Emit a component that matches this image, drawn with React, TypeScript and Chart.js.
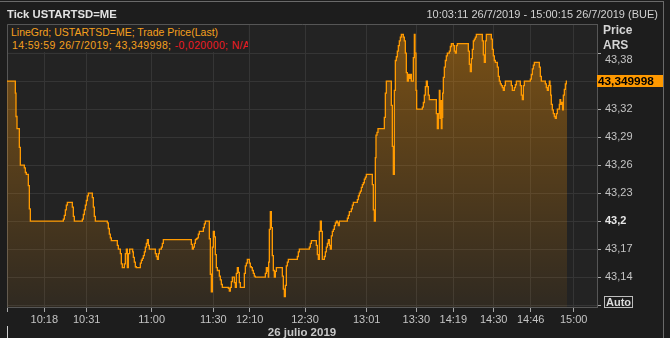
import React, { useEffect, useRef } from 'react';
import { Chart, registerables } from 'chart.js';

Chart.register(...registerables);

// ---- data ----
const tradeSeq = [
  0, 25, 27, 30, 37, 40, 52, 55, 58, 64, 67, 70,
  169, 172, 175, 178, 181, 196, 199, 202,
  226, 229, 232, 235, 238, 241, 244, 256, 259, 262, 265,
  301, 304, 307, 310, 313, 331, 334, 340, 343, 346, 352, 355, 358, 361, 364, 368, 377, 379, 382, 385, 388,
  400, 403, 406, 409, 412, 415, 418, 421, 424, 427, 445, 448, 451, 454, 457, 463, 466, 469,
  553, 556, 559, 562, 565, 568, 571, 574, 577, 589, 592, 595,
  607, 610, 613, 616, 619, 622, 625, 628, 631, 637, 640, 643, 646, 664, 667, 670, 673, 676, 682, 685, 688, 691, 694, 697, 700,
  712, 715, 718, 721, 727, 730, 733, 736, 739, 742, 745,
  775, 778, 781, 784, 785, 787, 790, 793, 796, 799, 802, 805, 808,
  826, 829, 832, 835, 838, 841, 844, 871, 874, 877, 907, 910, 913,
  928, 931, 934, 937, 940, 943, 946, 952, 955, 958, 961, 964, 967, 970, 973, 976, 979, 982, 985, 988, 991, 994, 997,
  1021, 1024, 1027, 1033, 1036, 1039, 1051, 1054, 1057, 1060, 1063, 1066, 1069, 1072, 1075, 1078,
  1096, 1099, 1102, 1105, 1107, 1110, 1113, 1132, 1135, 1138,
  1153, 1156, 1159, 1162, 1165, 1168, 1171, 1174, 1177, 1180, 1183, 1189, 1192, 1195, 1198, 1201, 1204, 1207, 1210, 1213, 1219, 1222, 1224, 1227, 1229,
  1246, 1249, 1252, 1255, 1258, 1261, 1264, 1267, 1288, 1291, 1294, 1297, 1299, 1301, 1303, 1305, 1307, 1309, 1312, 1315, 1318, 1321, 1327, 1330, 1333, 1339, 1342, 1345, 1348, 1351,
  1384, 1387, 1390, 1393, 1396, 1399, 1402, 1405, 1408, 1426, 1429, 1432, 1435, 1438,
  1453, 1456, 1459, 1462, 1465, 1471, 1474, 1477, 1480, 1483, 1486, 1489, 1492, 1495, 1513, 1516, 1522, 1525, 1528, 1540, 1543, 1546, 1549, 1552,
  1570, 1573, 1576, 1579, 1582, 1597, 1600, 1603, 1615, 1618, 1621, 1624, 1627, 1629, 1631, 1633, 1636, 1639, 1642, 1645, 1648, 1651, 1657, 1659, 1661, 1664, 1667, 1669, 1672, 1675, 1678, 1680,
];

const tradePrice = [
  43.350, 43.337, 43.312, 43.299, 43.279, 43.260, 43.257, 43.252, 43.250, 43.238, 43.213, 43.200,
  43.202, 43.206, 43.212, 43.217, 43.220, 43.215, 43.205, 43.200,
  43.202, 43.207, 43.212, 43.217, 43.222, 43.227, 43.230, 43.225, 43.215, 43.205, 43.200,
  43.198, 43.192, 43.186, 43.182, 43.179, 43.174, 43.170, 43.165, 43.154, 43.150, 43.154, 43.165, 43.170, 43.150, 43.165, 43.170, 43.167, 43.161, 43.156, 43.151, 43.150,
  43.155, 43.158, 43.160, 43.163, 43.167, 43.172, 43.176, 43.180, 43.174, 43.170, 43.165, 43.162, 43.159, 43.165, 43.170, 43.172, 43.176, 43.180,
  43.175, 43.170, 43.172, 43.176, 43.180, 43.181, 43.182, 43.186, 43.189, 43.193, 43.197, 43.200,
  43.181, 43.143, 43.124, 43.172, 43.189, 43.183, 43.164, 43.150, 43.147, 43.141, 43.137, 43.132, 43.129, 43.128, 43.125, 43.129, 43.135, 43.140, 43.134, 43.129, 43.144, 43.150, 43.145, 43.134, 43.129,
  43.144, 43.152, 43.155, 43.159, 43.155, 43.151, 43.150, 43.147, 43.144, 43.141, 43.140,
  43.144, 43.150, 43.146, 43.140, 43.156, 43.191, 43.210, 43.193, 43.163, 43.147, 43.140, 43.146, 43.150,
  43.141, 43.127, 43.119, 43.131, 43.152, 43.156, 43.159, 43.162, 43.167, 43.170, 43.172, 43.176, 43.179,
  43.174, 43.164, 43.159, 43.189, 43.200, 43.189, 43.159, 43.162, 43.167, 43.172, 43.176, 43.180, 43.174, 43.170, 43.184, 43.189, 43.191, 43.195, 43.198, 43.200, 43.198, 43.195, 43.200,
  43.203, 43.206, 43.210, 43.213, 43.217, 43.220, 43.223, 43.227, 43.230, 43.232, 43.236, 43.239, 43.241, 43.245, 43.247, 43.250,
  43.239, 43.212, 43.200, 43.268, 43.292, 43.295, 43.299, 43.311, 43.337, 43.350,
  43.324, 43.280, 43.250, 43.340, 43.372, 43.376, 43.382, 43.388, 43.393, 43.397, 43.400, 43.397, 43.393, 43.380, 43.359, 43.350, 43.357, 43.353, 43.357, 43.350, 43.375, 43.400, 43.380, 43.340, 43.320,
  43.322, 43.327, 43.335, 43.344, 43.350, 43.344, 43.335, 43.330, 43.315, 43.299, 43.315, 43.340, 43.310, 43.329, 43.299, 43.311, 43.337, 43.354, 43.365, 43.372, 43.377, 43.380, 43.382, 43.387, 43.390, 43.388, 43.382, 43.380, 43.388, 43.390,
  43.382, 43.368, 43.360, 43.374, 43.384, 43.393, 43.395, 43.397, 43.400, 43.393, 43.378, 43.370, 43.393, 43.400,
  43.395, 43.384, 43.377, 43.372, 43.370, 43.365, 43.355, 43.350, 43.347, 43.345, 43.343, 43.340, 43.345, 43.350, 43.345, 43.340, 43.343, 43.346, 43.350, 43.345, 43.335, 43.330, 43.345, 43.350,
  43.352, 43.357, 43.363, 43.367, 43.370, 43.365, 43.355, 43.350, 43.347, 43.343, 43.340, 43.345, 43.350, 43.345, 43.335, 43.325, 43.319, 43.315, 43.312, 43.310, 43.315, 43.320, 43.325, 43.330, 43.325, 43.327, 43.319, 43.335, 43.341, 43.347, 43.350, 43.350,
];

const timeTickSeq = [0, 112, 239, 434, 619, 728, 894, 1079, 1228, 1339, 1460, 1571, 1700];
const timeTickLabels = ['', '10:18', '10:31', '11:00', '11:30', '12:10', '12:30', '13:01', '13:30', '14:19', '14:30', '14:46', '15:00'];
const seqMax = 1770;

const priceTicks = [43.11, 43.14, 43.17, 43.2, 43.23, 43.26, 43.29, 43.32, 43.35, 43.38];
const priceTickLabels = ['', '43,14', '43,17', '43,2', '43,23', '43,26', '43,29', '43,32', '', '43,38'];
const priceMin = 43.1079;
const priceMax = 43.4111;
const refPrice = 43.2;

const titleText = 'Tick USTARTSD=ME';
const rangeText = '10:03:11 26/7/2019 - 15:00:15 26/7/2019 (BUE)';
const legendLine1 = 'LineGrd; USTARTSD=ME; Trade Price(Last)';
const legendLine2a = '14:59:59 26/7/2019; 43,349998; ';
const legendLine2b = '-0,020000; N/A';
const lastPriceText = '43,349998';
const dateText = '26 julio 2019';

const FONT = "'Liberation Sans', Arial, sans-serif";

const framePlugin = {
  id: 'frame',
  beforeDraw(chart: any) {
    const { ctx, chartArea: a } = chart;
    ctx.save();
    ctx.fillStyle = '#232323';
    ctx.fillRect(a.left, a.top, a.right - a.left, a.bottom - a.top);
    ctx.restore();
  },
  beforeDatasetsDraw(chart: any) {
    const { ctx, chartArea: a } = chart;
    ctx.save();
    ctx.strokeStyle = '#565656';
    ctx.lineWidth = 1;
    ctx.beginPath();
    ctx.moveTo(a.left + 0.5, a.bottom);
    ctx.lineTo(a.left + 0.5, a.top + 0.5);
    ctx.lineTo(a.right, a.top + 0.5);
    ctx.stroke();
    ctx.restore();
  },
};

export default function App() {
  const canvasRef = useRef<HTMLCanvasElement | null>(null);

  useEffect(() => {
    const canvas = canvasRef.current;
    if (!canvas) return;
    const chart = new Chart(canvas, {
      type: 'line',
      data: {
        datasets: [
          {
            data: tradeSeq.map((x, i) => ({ x, y: tradePrice[i] })),
            stepped: true,
            borderColor: '#ff9a00',
            borderWidth: 1.3,
            pointRadius: 0,
            fill: 'start',
            backgroundColor: (ctx: any) => {
              const area = ctx.chart.chartArea;
              if (!area) return 'rgba(255,150,0,0.2)';
              const g = ctx.chart.ctx.createLinearGradient(0, area.top, 0, area.bottom);
              g.addColorStop(0, 'rgba(255,150,0,0.40)');
              g.addColorStop(1, 'rgba(255,150,0,0.06)');
              return g;
            },
          },
        ],
      },
      options: {
        responsive: false,
        animation: false,
        layout: { padding: { left: 7, top: 24, right: 0, bottom: 0 } },
        plugins: { legend: { display: false }, tooltip: { enabled: false } },
        scales: {
          x: {
            type: 'linear',
            min: 0,
            max: seqMax,
            bounds: 'data',
            afterBuildTicks: (s: any) => {
              s.ticks = timeTickSeq.map((v) => ({ value: v }));
            },
            afterFit: (s: any) => {
              s.height = 31;
            },
            ticks: {
              autoSkip: false,
              maxRotation: 0,
              padding: 1,
              color: '#c4c4c4',
              font: { family: FONT, size: 11 },
              callback: (v: any) => {
                const i = timeTickSeq.indexOf(Number(v));
                return i >= 0 ? timeTickLabels[i] : '';
              },
            },
            grid: {
              color: '#353535',
              tickColor: '#a8a8a8',
              tickLength: 5,
              lineWidth: 1,
            },
            border: { color: '#565656', width: 1 },
          },
          y: {
            type: 'linear',
            position: 'right',
            min: priceMin,
            max: priceMax,
            bounds: 'data',
            afterBuildTicks: (s: any) => {
              s.ticks = priceTicks.map((v) => ({ value: v }));
            },
            afterFit: (s: any) => {
              s.width = 73;
            },
            ticks: {
              padding: 4,
              color: (c: any) => (c.tick && Math.abs(c.tick.value - refPrice) < 1e-6 ? '#e6e6e6' : '#c4c4c4'),
              font: (c: any) => ({
                family: FONT,
                size: 11,
                weight: c.tick && Math.abs(c.tick.value - refPrice) < 1e-6 ? 'bold' : 'normal',
              }),
              callback: (v: any, i: number) => {
                const lbl = priceTickLabels[i] ?? '';
                return i === priceTicks.length - 1 ? ['', lbl] : lbl;
              },
            },
            grid: {
              color: '#353535',
              tickColor: '#a8a8a8',
              tickLength: 4,
              lineWidth: 1,
            },
            border: { color: '#565656', width: 1 },
          },
        },
      } as any,
      plugins: [framePlugin],
    });
    return () => chart.destroy();
  }, []);

  const abs = (s: React.CSSProperties): React.CSSProperties => ({ position: 'absolute', whiteSpace: 'nowrap', ...s });

  return (
    <div
      style={{
        position: 'fixed',
        left: 0,
        top: 0,
        width: 670,
        height: 338,
        background: '#1d1d1d',
        overflow: 'hidden',
        fontFamily: FONT,
      }}
    >
      <canvas ref={canvasRef} width={670} height={338} style={{ position: 'absolute', left: 0, top: 0, width: 670, height: 338 }} />
      {/* window frame lines */}
      <div style={abs({ left: 0, top: 1, width: 664, height: 1, background: '#6a6a6a' })} />
      <div style={abs({ left: 663, top: 1, width: 1, height: 337, background: '#6a6a6a' })} />
      {/* header */}
      <div style={abs({ left: 7, top: 7, fontSize: 11.3, lineHeight: '14px', fontWeight: 'bold', color: '#e2e2e2' })}>{titleText}</div>
      <div style={abs({ right: 12, top: 7, fontSize: 11, lineHeight: '14px', color: '#d2d2d2' })}>{rangeText}</div>
      {/* legend box */}
      <div style={abs({ left: 8, top: 25, width: 240, height: 27, background: '#212121', overflow: 'hidden' })}>
        <div style={abs({ left: 3, top: 1, fontSize: 10.5, lineHeight: '13px', color: '#f5a01e' })}>{legendLine1}</div>
        <div style={abs({ left: 4, top: 14, fontSize: 10.5, lineHeight: '13px', letterSpacing: '0.35px', color: '#f5a01e' })}>
          {legendLine2a}
          <span style={{ color: '#ee1c24' }}>{legendLine2b}</span>
        </div>
      </div>
      {/* axis title */}
      <div style={abs({ left: 603, top: 23, fontSize: 12, lineHeight: '14px', fontWeight: 'bold', color: '#d4d4d4' })}>Price</div>
      <div style={abs({ left: 603, top: 38, fontSize: 12, lineHeight: '14px', fontWeight: 'bold', color: '#d4d4d4' })}>ARS</div>
      {/* last value tag */}
      <div
        style={abs({
          left: 597,
          top: 75,
          width: 66,
          height: 12,
          background: '#ff9900',
          color: '#000',
          fontSize: 11.8,
          lineHeight: '12px',
          fontWeight: 'bold',
          paddingLeft: 1,
          boxSizing: 'border-box',
        })}
      >
        {lastPriceText}
      </div>
      {/* Auto button */}
      <div
        style={abs({
          left: 604,
          top: 296,
          width: 29,
          height: 12,
          border: '1px solid #bdbdbd',
          boxSizing: 'border-box',
          color: '#dcdcdc',
          fontSize: 11,
          lineHeight: '10px',
          fontWeight: 'bold',
          textAlign: 'center',
        })}
      >
        Auto
      </div>
      {/* date */}
      <div style={abs({ left: 232, width: 140, top: 325, textAlign: 'center', fontSize: 11.5, lineHeight: '14px', fontWeight: 'bold', color: '#c8c8c8' })}>{dateText}</div>
      <div style={abs({ left: 7, top: 326, width: 1, height: 12, background: '#cfcfcf' })} />
    </div>
  );
}
